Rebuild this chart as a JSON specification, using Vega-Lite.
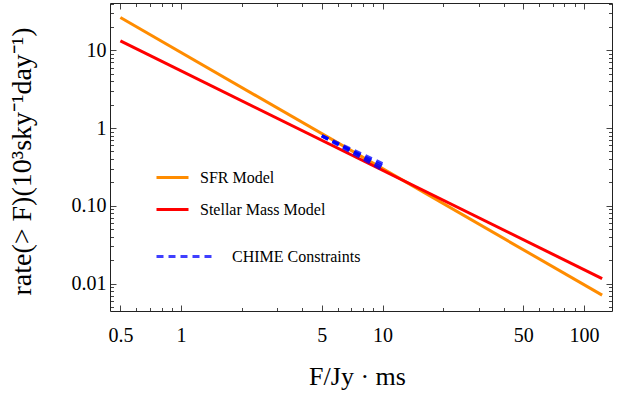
{
  "$schema": "https://vega.github.io/schema/vega-lite/v6.json",
  "width": 502,
  "height": 308,
  "autosize": {"type": "none"},
  "padding": {"left": 110, "top": 3, "right": 19, "bottom": 84},
  "background": "white",
  "config": {
    "view": {"stroke": null},
    "font": "Liberation Serif",
    "axis": {"grid": false, "domainColor": "#222222", "domainWidth": 1, "tickColor": "#444444", "tickWidth": 1, "labelFont": "Liberation Serif", "titleFont": "Liberation Serif", "labelColor": "black", "titleColor": "black", "titleFontWeight": "normal"},
    "legend": {"labelFont": "Liberation Serif", "labelFontSize": 16, "labelColor": "black"}
  },
  "datasets": {
    "models": [
      {"F": 0.5, "rate": 26.4, "model": "SFR Model"},
      {"F": 123, "rate": 0.0071, "model": "SFR Model"},
      {"F": 0.5, "rate": 13.2, "model": "Stellar Mass Model"},
      {"F": 123, "rate": 0.0116, "model": "Stellar Mass Model"}
    ],
    "chime": [
      {"F": 5, "rate": 0.79, "id": 1, "label": "CHIME Constraints"},
      {"F": 10, "rate": 0.29, "id": 1, "label": "CHIME Constraints"},
      {"F": 5, "rate": 0.80, "id": 2, "label": "CHIME Constraints"},
      {"F": 10, "rate": 0.31, "id": 2, "label": "CHIME Constraints"},
      {"F": 5, "rate": 0.79, "id": 3, "label": "CHIME Constraints"},
      {"F": 10, "rate": 0.33, "id": 3, "label": "CHIME Constraints"},
      {"F": 5, "rate": 0.80, "id": 4, "label": "CHIME Constraints"},
      {"F": 10, "rate": 0.35, "id": 4, "label": "CHIME Constraints"}
    ]
  },
  "layer": [
    {
      "data": {"name": "models"},
      "mark": {"type": "line", "strokeWidth": 3, "clip": true},
      "encoding": {
        "x": {
          "field": "F", "type": "quantitative",
          "scale": {"type": "log", "domain": [0.444, 137.7], "nice": false},
          "axis": {
            "orient": "bottom",
            "values": [0.5,0.6,0.7,0.8,0.9,1,2,3,4,5,6,7,8,9,10,20,30,40,50,60,70,80,90,100],
            "labelExpr": "datum.value == 0.5 ? '0.5' : datum.value == 1 ? '1' : datum.value == 5 ? '5' : datum.value == 10 ? '10' : datum.value == 50 ? '50' : datum.value == 100 ? '100' : ''",
            "tickSize": {"condition": {"test": "indexof([0.5,1,5,10,50,100], datum.value) >= 0", "value": -6}, "value": -3.5},
            "labelFontSize": 20,
            "labelPadding": 20,
            "labelFlush": false,
            "labelOverlap": false,
            "title": "F/Jy · ms",
            "titleFontSize": 26,
            "titleX": 247,
            "titleY": 65,
            "titleBaseline": "middle"
          }
        },
        "y": {
          "field": "rate", "type": "quantitative",
          "scale": {"type": "log", "domain": [0.00444, 40.6], "nice": false},
          "axis": {
            "orient": "left",
            "values": [0.005,0.006,0.007,0.008,0.009,0.01,0.02,0.03,0.04,0.05,0.06,0.07,0.08,0.09,0.1,0.2,0.3,0.4,0.5,0.6,0.7,0.8,0.9,1,2,3,4,5,6,7,8,9,10,20,30,40],
            "labelExpr": "datum.value == 0.01 ? '0.01' : datum.value == 0.1 ? '0.10' : datum.value == 1 ? '1' : datum.value == 10 ? '10' : ''",
            "tickSize": {"condition": {"test": "indexof([0.01,0.1,1,10], datum.value) >= 0", "value": -6}, "value": -3.5},
            "labelFontSize": 20,
            "labelPadding": 10,
            "labelFlush": false,
            "labelOverlap": false,
            "title": "rate(> F)(10³sky⁻¹day⁻¹)",
            "titleFontSize": 28,
            "titleAngle": 270,
            "titleX": -88,
            "titleY": 158,
            "titleAlign": "center",
            "titleBaseline": "middle"
          }
        },
        "color": {
          "field": "model", "type": "nominal",
          "scale": {"domain": ["SFR Model", "Stellar Mass Model"], "range": ["#FF8C00", "#FF0000"]},
          "legend": {"orient": "none", "legendX": 45, "legendY": 157, "title": null, "symbolType": "stroke", "symbolStrokeWidth": 3, "symbolSize": 1024, "labelOffset": 10, "rowPadding": 6}
        }
      }
    },
    {
      "data": {"name": "chime"},
      "mark": {"type": "line", "strokeWidth": 3, "color": "#0000FF", "opacity": 0.75},
      "encoding": {
        "x": {"field": "F", "type": "quantitative", "axis": null},
        "y": {"field": "rate", "type": "quantitative", "axis": null},
        "detail": {"field": "id", "type": "nominal"},
        "strokeDash": {
          "field": "label", "type": "nominal",
          "scale": {"domain": ["CHIME Constraints"], "range": [[7, 5]]},
          "legend": {"orient": "none", "legendX": 45, "legendY": 222, "title": null, "symbolType": "stroke", "symbolStrokeColor": "#0000FF", "symbolStrokeWidth": 3, "symbolSize": 3600, "labelOffset": 14}
        }
      }
    },
    {
      "data": {"name": "models"},
      "mark": {"type": "line", "opacity": 0},
      "encoding": {
        "x": {
          "field": "F", "type": "quantitative",
          "axis": {
            "orient": "top", "labels": false, "title": null,
            "values": [0.5,0.6,0.7,0.8,0.9,1,2,3,4,5,6,7,8,9,10,20,30,40,50,60,70,80,90,100],
            "tickSize": {"condition": {"test": "indexof([0.5,1,5,10,50,100], datum.value) >= 0", "value": -6}, "value": -3.5}
          }
        },
        "y": {
          "field": "rate", "type": "quantitative",
          "axis": {
            "orient": "right", "labels": false, "title": null,
            "values": [0.005,0.006,0.007,0.008,0.009,0.01,0.02,0.03,0.04,0.05,0.06,0.07,0.08,0.09,0.1,0.2,0.3,0.4,0.5,0.6,0.7,0.8,0.9,1,2,3,4,5,6,7,8,9,10,20,30,40],
            "tickSize": {"condition": {"test": "indexof([0.01,0.1,1,10], datum.value) >= 0", "value": -6}, "value": -3.5}
          }
        }
      }
    }
  ],
  "resolve": {"axis": {"x": "independent", "y": "independent"}}
}
